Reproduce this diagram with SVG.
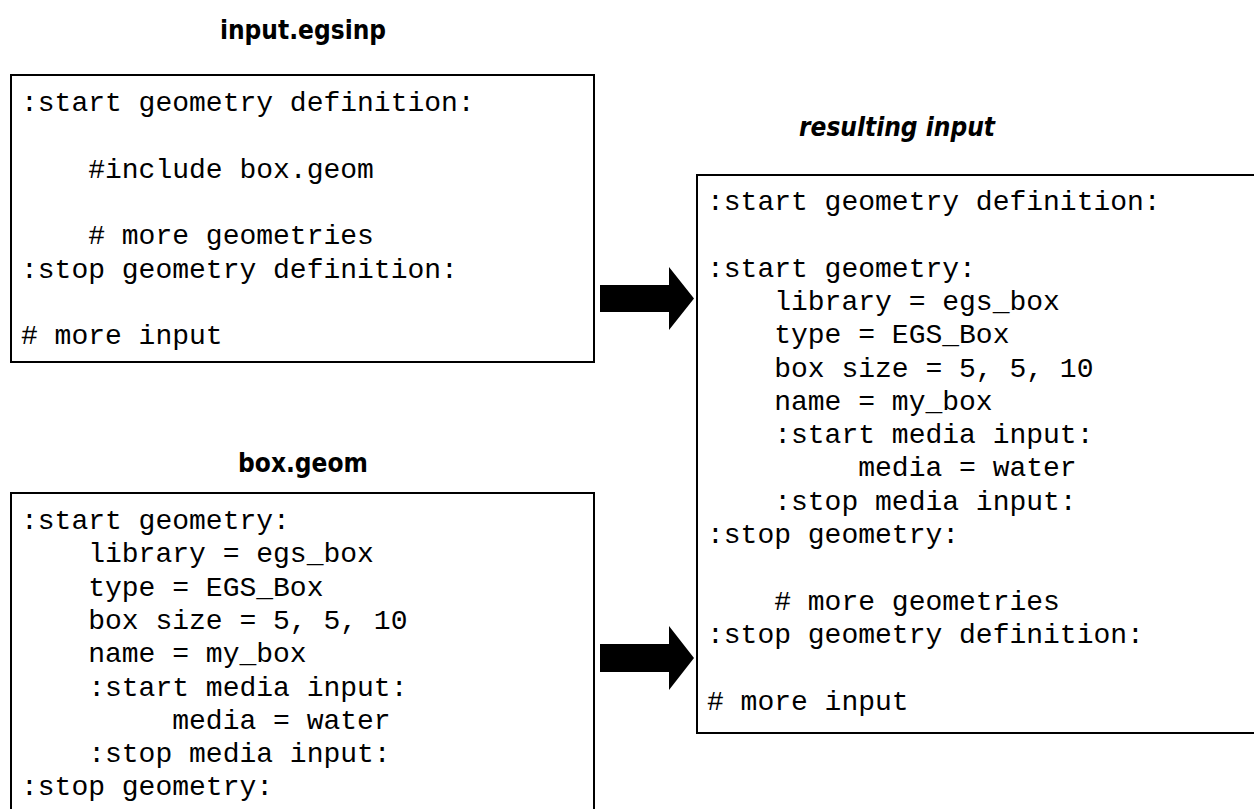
<svg xmlns="http://www.w3.org/2000/svg" width="1254" height="809" viewBox="0 0 1254 809">
  <style>
    .box { fill: #ffffff; stroke: #000000; stroke-width: 2; }
    .code { font-family: "Liberation Mono", "Courier New", monospace; font-size: 28px; fill: #000000; white-space: pre; }
    .title { font-family: "DejaVu Sans Condensed", "DejaVu Sans", sans-serif; font-stretch: condensed; font-weight: bold; font-size: 26px; fill: #000000; text-anchor: middle; }
    .ititle { font-style: italic; }
    .arrow { fill: #000000; }
  </style>
  <rect x="0" y="0" width="1254" height="809" fill="#ffffff"/>

  <g id="input-egsinp">
    <text class="title" x="303" y="39">input.egsinp</text>
    <rect class="box" x="11" y="75" width="583" height="287"/>
    <text class="code" xml:space="preserve" x="21" y="111">:start geometry definition:</text>
    <text class="code" xml:space="preserve" x="21" y="177.6">    #include box.geom</text>
    <text class="code" xml:space="preserve" x="21" y="244.2">    # more geometries</text>
    <text class="code" xml:space="preserve" x="21" y="277.5">:stop geometry definition:</text>
    <text class="code" xml:space="preserve" x="21" y="344.1"># more input</text>
  </g>

  <g id="box-geom">
    <text class="title" x="303" y="472">box.geom</text>
    <rect class="box" x="11" y="493" width="583" height="340"/>
    <text class="code" xml:space="preserve" x="21" y="529">:start geometry:</text>
    <text class="code" xml:space="preserve" x="21" y="562.3">    library = egs_box</text>
    <text class="code" xml:space="preserve" x="21" y="595.6">    type = EGS_Box</text>
    <text class="code" xml:space="preserve" x="21" y="628.9">    box size = 5, 5, 10</text>
    <text class="code" xml:space="preserve" x="21" y="662.2">    name = my_box</text>
    <text class="code" xml:space="preserve" x="21" y="695.5">    :start media input:</text>
    <text class="code" xml:space="preserve" x="21" y="728.8">         media = water</text>
    <text class="code" xml:space="preserve" x="21" y="762.1">    :stop media input:</text>
    <text class="code" xml:space="preserve" x="21" y="795.4">:stop geometry:</text>
  </g>

  <g id="resulting-input">
    <text class="title ititle" x="897" y="136">resulting input</text>
    <rect class="box" x="697" y="175" width="580" height="558"/>
    <text class="code" xml:space="preserve" x="707" y="210">:start geometry definition:</text>
    <text class="code" xml:space="preserve" x="707" y="276.6">:start geometry:</text>
    <text class="code" xml:space="preserve" x="707" y="309.9">    library = egs_box</text>
    <text class="code" xml:space="preserve" x="707" y="343.2">    type = EGS_Box</text>
    <text class="code" xml:space="preserve" x="707" y="376.5">    box size = 5, 5, 10</text>
    <text class="code" xml:space="preserve" x="707" y="409.8">    name = my_box</text>
    <text class="code" xml:space="preserve" x="707" y="443.1">    :start media input:</text>
    <text class="code" xml:space="preserve" x="707" y="476.4">         media = water</text>
    <text class="code" xml:space="preserve" x="707" y="509.7">    :stop media input:</text>
    <text class="code" xml:space="preserve" x="707" y="543">:stop geometry:</text>
    <text class="code" xml:space="preserve" x="707" y="609.6">    # more geometries</text>
    <text class="code" xml:space="preserve" x="707" y="642.9">:stop geometry definition:</text>
    <text class="code" xml:space="preserve" x="707" y="709.5"># more input</text>
  </g>

  <g id="connectors">
    <polygon class="arrow" points="600,285 669,285 669,267 694,298.5 669,330 669,312 600,312"/>
    <polygon class="arrow" points="600,644 669,644 669,626 694,658 669,690 669,672 600,672"/>
  </g>
</svg>
